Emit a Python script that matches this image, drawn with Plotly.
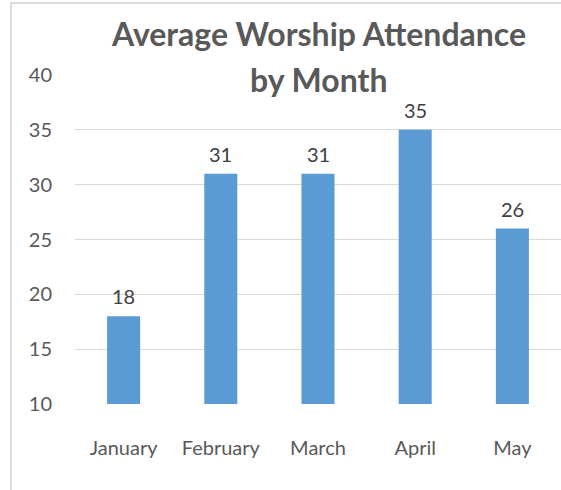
import plotly.graph_objects as go

months = ["January", "February", "March", "April", "May"]
attendance = [18, 31, 31, 35, 26]
y_ticks = [10, 15, 20, 25, 30, 35, 40]

FONT = "Lato"
fig = go.Figure(go.Bar(
    x=months, y=attendance,
    marker=dict(color="#5B9BD5", line=dict(width=0)),
    cliponaxis=False,
))

W, H = 561, 490
L, R, T, B = 75, 0, 75, 86
pw, ph = W - L - R, H - T - B

annotations = [
    dict(text="<b>Average Worship Attendance</b>", xref="paper", yref="paper",
         x=(318 - L) / pw, y=(H - B - 34) / ph, xanchor="center", yanchor="middle",
         showarrow=False, font=dict(family=FONT, size=32, color="#595959")),
    dict(text="<b>by Month</b>", xref="paper", yref="paper",
         x=(318 - L) / pw, y=(H - B - 79) / ph, xanchor="center", yanchor="middle",
         showarrow=False, font=dict(family=FONT, size=32, color="#595959")),
]
for m, v in zip(months, attendance):
    annotations.append(dict(x=m, y=v, text=str(v), xref="x", yref="y",
                            xanchor="center", yanchor="bottom", yshift=6,
                            showarrow=False,
                            font=dict(family=FONT, size=20, color="#404040")))

fig.update_layout(
    width=W, height=H,
    margin=dict(l=L, r=R, t=T, b=B),
    paper_bgcolor="white", plot_bgcolor="white",
    bargap=0.66,
    showlegend=False,
    font=dict(family=FONT, color="#595959"),
    annotations=annotations,
    shapes=[dict(type="rect", xref="paper", yref="paper",
                 x0=(11 - L) / pw, x1=2, y0=-1, y1=(H - B - 3) / ph,
                 line=dict(color="#D0D0D0", width=1.5), layer="below")],
)
fig.update_yaxes(range=[10, 40], tickvals=y_ticks, showgrid=True, gridcolor="#D9D9D9",
                 gridwidth=1, zeroline=False, showline=False, ticks="",
                 ticklabelstandoff=22, tickfont=dict(family=FONT, size=20, color="#595959"))
fig.update_xaxes(showgrid=False, showline=False, ticks="", ticklabelstandoff=30,
                 tickfont=dict(family=FONT, size=20, color="#595959"))

fig.write_html("out.html", config={"displayModeBar": False},
               post_script="document.body.style.margin='0';")
